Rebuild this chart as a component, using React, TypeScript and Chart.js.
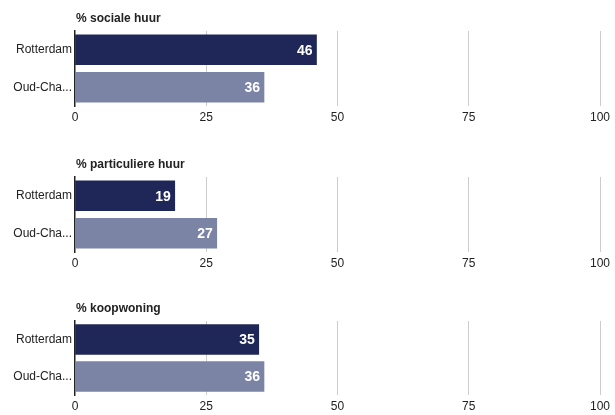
import React, { useEffect, useRef } from "react";
import { Chart, registerables } from "chart.js";

Chart.register(...registerables);

const categories = ["Rotterdam", "Oud-Cha..."];
const titles = ["% sociale huur", "% particuliere huur", "% koopwoning"];
const socialeHuur = [46, 36];
const particuliereHuur = [19, 27];
const koopwoning = [35, 36];
const seriesList = [socialeHuur, particuliereHuur, koopwoning];
const xTicks = [0, 25, 50, 75, 100];

const barColors = ["#1e2757", "#7b84a4"];
const FONT = "'Liberation Sans', Arial, sans-serif";

const titlePlugin = {
  id: "leftTitle",
  afterDraw(chart: any, _args: any, opts: any) {
    const ctx = chart.ctx;
    ctx.save();
    ctx.font = `bold 12px ${FONT}`;
    ctx.fillStyle = "#222";
    ctx.textAlign = "left";
    ctx.textBaseline = "middle";
    ctx.fillText(opts.text, chart.chartArea.left + 1, 18.5);
    ctx.restore();
  },
};

const valuePlugin = {
  id: "valueLabels",
  afterDatasetsDraw(chart: any) {
    const ctx = chart.ctx;
    ctx.save();
    ctx.font = `bold 14px ${FONT}`;
    ctx.fillStyle = "#ffffff";
    ctx.textAlign = "right";
    ctx.textBaseline = "middle";
    chart.data.datasets.forEach((ds: any, di: number) => {
      const meta = chart.getDatasetMeta(di);
      meta.data.forEach((bar: any, i: number) => {
        ctx.fillText(String(ds.data[i]), bar.x - 4, bar.y + 1);
      });
    });
    ctx.restore();
  },
};

function BarPanel({ title, values, height, bottomPad }: { title: string; values: number[]; height: number; bottomPad: number }) {
  const ref = useRef<HTMLCanvasElement>(null);
  useEffect(() => {
    if (!ref.current) return;
    const chart = new Chart(ref.current, {
      type: "bar",
      data: {
        labels: categories,
        datasets: [
          {
            data: values,
            backgroundColor: barColors,
            borderWidth: 0,
            barThickness: 30,
          },
        ],
      },
      options: {
        indexAxis: "y",
        responsive: false,
        animation: false,
        layout: { padding: { top: 31, right: 15, left: 0, bottom: bottomPad } },
        plugins: {
          legend: { display: false },
          tooltip: { enabled: false },
          title: { display: false },
          leftTitle: { text: title },
        } as any,
        scales: {
          x: {
            min: 0,
            max: 100,
            afterBuildTicks: (scale: any) => {
              scale.ticks = xTicks.map((v) => ({ value: v }));
            },
            afterFit: (scale: any) => {
              scale.height = 20;
            },
            grid: {
              color: (c: any) => (c.tick && c.tick.value === 0 ? "rgba(0,0,0,0)" : "#cccccc"),
              drawTicks: false,
              lineWidth: 1,
            },
            border: { display: false },
            ticks: {
              padding: 4,
              color: "#222",
              font: { family: FONT, size: 12 },
              maxRotation: 0,
            },
          },
          y: {
            afterFit: (scale: any) => {
              scale.width = 75;
            },
            grid: { display: false, drawTicks: false },
            border: { display: true, color: "#222", width: 1.5 },
            ticks: {
              padding: 3,
              color: "#222",
              font: { family: FONT, size: 12 },
            },
          },
        },
      },
      plugins: [titlePlugin, valuePlugin],
    });
    return () => chart.destroy();
  }, []);
  return <canvas ref={ref} width={615} height={height} style={{ display: "block" }} />;
}

export default function App() {
  useEffect(() => {
    document.body.style.margin = "0";
    document.body.style.overflow = "hidden";
  }, []);
  const tops = [0, 146, 290];
  const heights = [145, 144, 125];
  const pads = [19, 18, 0];
  return (
    <div style={{ position: "fixed", left: 0, top: 0, width: 615, height: 415, overflow: "hidden", background: "#fff" }}>
      {titles.map((t, i) => (
        <div key={t} style={{ position: "absolute", left: 0, top: tops[i] }}>
          <BarPanel title={t} values={seriesList[i]} height={heights[i]} bottomPad={pads[i]} />
        </div>
      ))}
    </div>
  );
}
